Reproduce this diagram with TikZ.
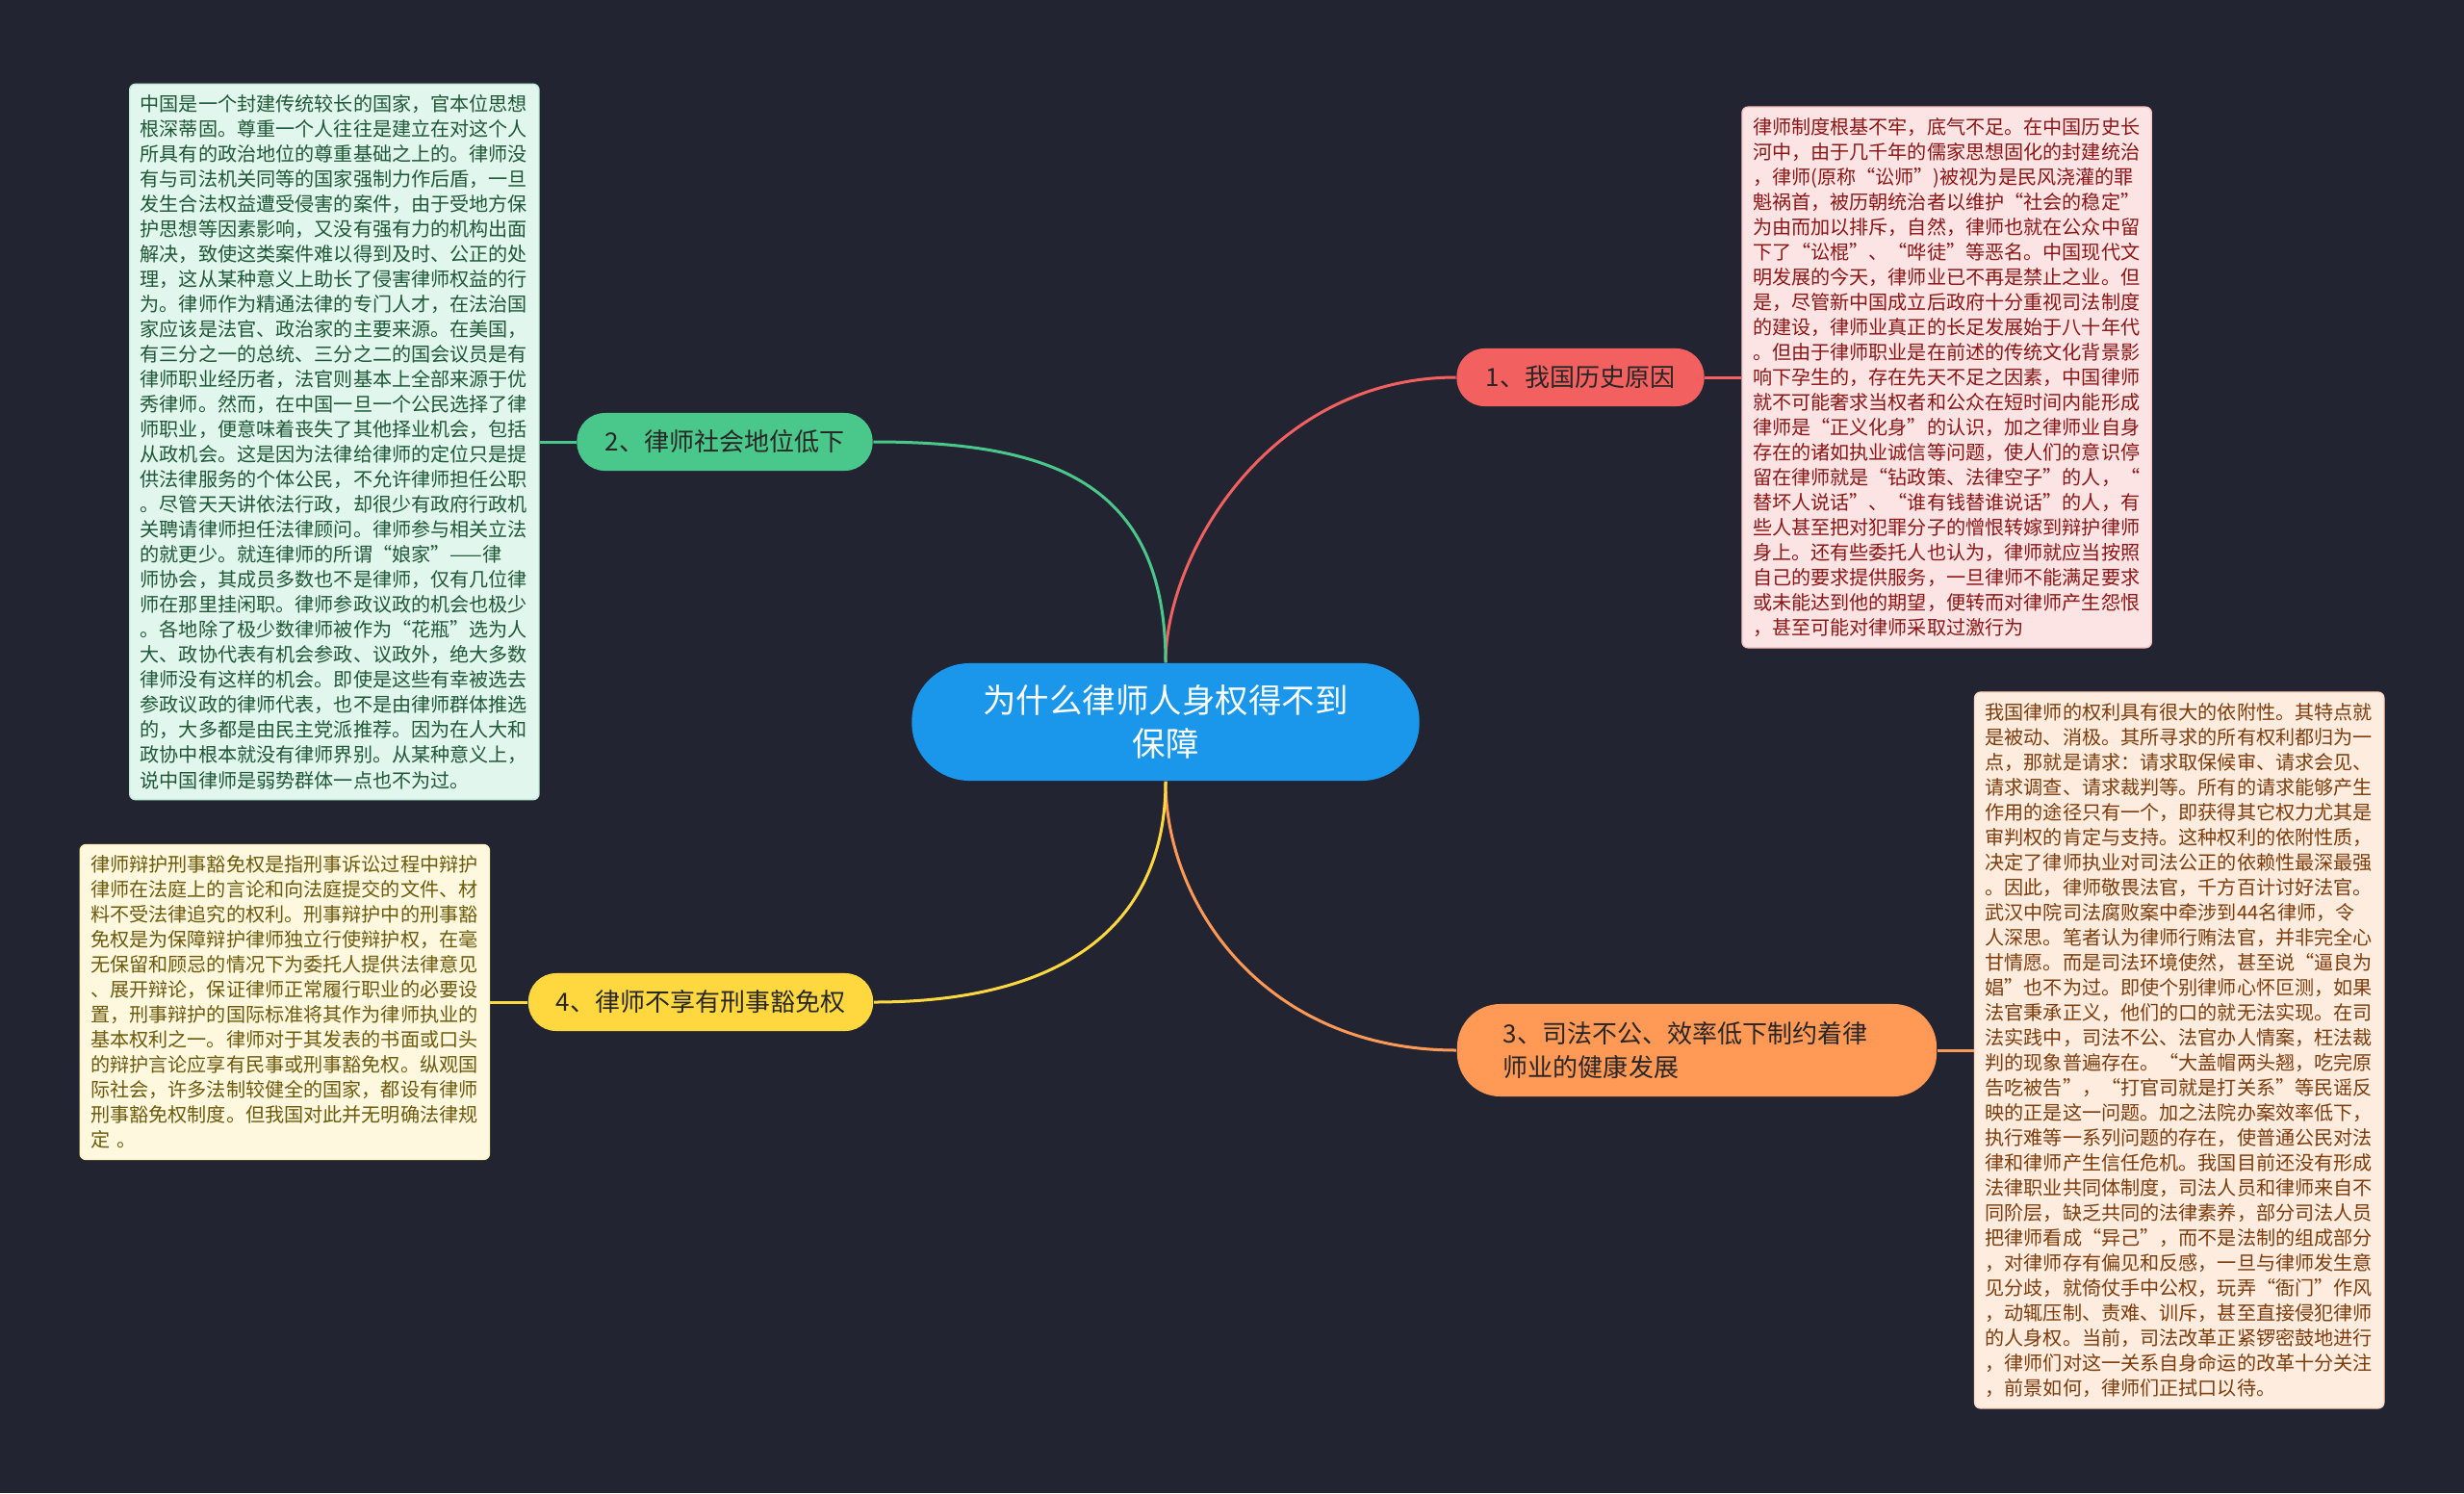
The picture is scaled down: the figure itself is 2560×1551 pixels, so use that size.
\documentclass[tikz,border=0pt]{standalone}
\usepackage{fontspec}
\setmainfont{Noto Sans CJK SC}
\usepackage{tikz}
\usetikzlibrary{positioning}
\definecolor{bgdark}{RGB}{34, 37, 49}
\definecolor{rootblue}{RGB}{26, 150, 235}
\definecolor{topictext}{RGB}{40, 38, 38}
\definecolor{redA}{RGB}{242, 96, 96}
\definecolor{redL}{RGB}{253, 228, 228}
\definecolor{redT}{RGB}{140, 22, 22}
\definecolor{greenA}{RGB}{74, 199, 138}
\definecolor{greenL}{RGB}{225, 246, 236}
\definecolor{greenT}{RGB}{30, 88, 55}
\definecolor{orangeA}{RGB}{255, 153, 85}
\definecolor{orangeL}{RGB}{254, 236, 222}
\definecolor{orangeT}{RGB}{125, 60, 12}
\definecolor{yellowA}{RGB}{255, 216, 64}
\definecolor{yellowL}{RGB}{254, 248, 222}
\definecolor{yellowT}{RGB}{110, 90, 12}

\begin{document}
\begin{tikzpicture}[x=0.01cm, y=-0.01cm,
  root/.style={fill=rootblue, text=white, rounded corners=0.6cm,
               font=\fontsize{9.8}{12.8}\selectfont, align=center,
               minimum width=5.27cm, minimum height=1.22cm},
  topic/.style={rounded corners=0.29cm, text=topictext, inner xsep=0.2cm,
                font=\fontsize{7.4}{9.7}\selectfont, minimum height=0.6cm},
  desc/.style={rounded corners=0.06cm, line width=0.4pt, align=left,
               text width=4.03cm, inner xsep=0.11cm, inner ysep=0.11cm,
               font=\fontsize{5.72}{7.4}\selectfont},
  link/.style={line width=0.03cm},
]
  \fill[bgdark] (0,0) rectangle (2560,1551);
  \useasboundingbox (0,0) rectangle (2560,1551);

  % centre and the four branches
  \node[root] (root) at (1211,750) {为什么律师人身权得不到\\保障};
  \node[topic, fill=redA, minimum width=2.57cm] (t1) at (1642,392) {1、我国历史原因};
  \node[topic, fill=greenA, minimum width=3.07cm] (t2) at (753,459) {2、律师社会地位低下};
  \node[topic, fill=orangeA, rounded corners=0.45cm, minimum height=0.96cm,
        text width=4.02cm, align=left, inner xsep=0.48cm] (t3) at (1763,1091)
        {3、司法不公、效率低下制约着律\\师业的健康发展};
  \node[topic, fill=yellowA, minimum width=3.58cm] (t4) at (728,1041) {4、律师不享有刑事豁免权};

  % text boxes
  \node[desc, fill=redL, draw=redA!35, text=redT, right=0.38cm of t1] (d1) {律师制度根基不牢，底气不足。在中国历史长\\河中，由于几千年的儒家思想固化的封建统治\\，律师(原称“讼师”)被视为是民风浇灌的罪\\魁祸首，被历朝统治者以维护“社会的稳定”\\为由而加以排斥，自然，律师也就在公众中留\\下了“讼棍”、“哗徒”等恶名。中国现代文\\明发展的今天，律师业已不再是禁止之业。但\\是，尽管新中国成立后政府十分重视司法制度\\的建设，律师业真正的长足发展始于八十年代\\。但由于律师职业是在前述的传统文化背景影\\响下孕生的，存在先天不足之因素，中国律师\\就不可能奢求当权者和公众在短时间内能形成\\律师是“正义化身”的认识，加之律师业自身\\存在的诸如执业诚信等问题，使人们的意识停\\留在律师就是“钻政策、法律空子”的人，“\\替坏人说话”、“谁有钱替谁说话”的人，有\\些人甚至把对犯罪分子的憎恨转嫁到辩护律师\\身上。还有些委托人也认为，律师就应当按照\\自己的要求提供服务，一旦律师不能满足要求\\或未能达到他的期望，便转而对律师产生怨恨\\，甚至可能对律师采取过激行为};
  \node[desc, fill=greenL, draw=greenA!35, text=greenT, left=0.38cm of t2] (d2) {中国是一个封建传统较长的国家，官本位思想\\根深蒂固。尊重一个人往往是建立在对这个人\\所具有的政治地位的尊重基础之上的。律师没\\有与司法机关同等的国家强制力作后盾，一旦\\发生合法权益遭受侵害的案件，由于受地方保\\护思想等因素影响，又没有强有力的机构出面\\解决，致使这类案件难以得到及时、公正的处\\理，这从某种意义上助长了侵害律师权益的行\\为。律师作为精通法律的专门人才，在法治国\\家应该是法官、政治家的主要来源。在美国，\\有三分之一的总统、三分之二的国会议员是有\\律师职业经历者，法官则基本上全部来源于优\\秀律师。然而，在中国一旦一个公民选择了律\\师职业，便意味着丧失了其他择业机会，包括\\从政机会。这是因为法律给律师的定位只是提\\供法律服务的个体公民，不允许律师担任公职\\。尽管天天讲依法行政，却很少有政府行政机\\关聘请律师担任法律顾问。律师参与相关立法\\的就更少。就连律师的所谓“娘家”——律\\师协会，其成员多数也不是律师，仅有几位律\\师在那里挂闲职。律师参政议政的机会也极少\\。各地除了极少数律师被作为“花瓶”选为人\\大、政协代表有机会参政、议政外，绝大多数\\律师没有这样的机会。即使是这些有幸被选去\\参政议政的律师代表，也不是由律师群体推选\\的，大多都是由民主党派推荐。因为在人大和\\政协中根本就没有律师界别。从某种意义上，\\说中国律师是弱势群体一点也不为过。};
  \node[desc, fill=orangeL, draw=orangeA!35, text=orangeT, right=0.38cm of t3] (d3) {我国律师的权利具有很大的依附性。其特点就\\是被动、消极。其所寻求的所有权利都归为一\\点，那就是请求：请求取保候审、请求会见、\\请求调查、请求裁判等。所有的请求能够产生\\作用的途径只有一个，即获得其它权力尤其是\\审判权的肯定与支持。这种权利的依附性质，\\决定了律师执业对司法公正的依赖性最深最强\\。因此，律师敬畏法官，千方百计讨好法官。\\武汉中院司法腐败案中牵涉到44名律师，令\\人深思。笔者认为律师行贿法官，并非完全心\\甘情愿。而是司法环境使然，甚至说“逼良为\\娼”也不为过。即使个别律师心怀叵测，如果\\法官秉承正义，他们的口的就无法实现。在司\\法实践中，司法不公、法官办人情案，枉法裁\\判的现象普遍存在。“大盖帽两头翘，吃完原\\告吃被告”，“打官司就是打关系”等民谣反\\映的正是这一问题。加之法院办案效率低下，\\执行难等一系列问题的存在，使普通公民对法\\律和律师产生信任危机。我国目前还没有形成\\法律职业共同体制度，司法人员和律师来自不\\同阶层，缺乏共同的法律素养，部分司法人员\\把律师看成“异己”，而不是法制的组成部分\\，对律师存有偏见和反感，一旦与律师发生意\\见分歧，就倚仗手中公权，玩弄“衙门”作风\\，动辄压制、责难、训斥，甚至直接侵犯律师\\的人身权。当前，司法改革正紧锣密鼓地进行\\，律师们对这一关系自身命运的改革十分关注\\，前景如何，律师们正拭口以待。};
  \node[desc, fill=yellowL, draw=yellowA!35, text=yellowT, left=0.39cm of t4] (d4) {律师辩护刑事豁免权是指刑事诉讼过程中辩护\\律师在法庭上的言论和向法庭提交的文件、材\\料不受法律追究的权利。刑事辩护中的刑事豁\\免权是为保障辩护律师独立行使辩护权，在毫\\无保留和顾忌的情况下为委托人提供法律意见\\、展开辩论，保证律师正常履行职业的必要设\\置，刑事辩护的国际标准将其作为律师执业的\\基本权利之一。律师对于其发表的书面或口头\\的辩护言论应享有民事或刑事豁免权。纵观国\\际社会，许多法制较健全的国家，都设有律师\\刑事豁免权制度。但我国对此并无明确法律规\\定 。};

  % connectors
  \draw[link, redA] (root.north) .. controls +(0,-113) and +(-193,0) .. (t1.west);
  \draw[link, greenA] (root.north) .. controls +(0,-189) and +(183,0) .. (t2.east);
  \draw[link, orangeA] (root.south) .. controls +(0,128) and +(-199,0) .. (t3.west);
  \draw[link, yellowA] (root.south) .. controls +(0,144) and +(204,0) .. (t4.east);
  \draw[link, redA] (t1) -- (d1);
  \draw[link, greenA] (t2) -- (d2);
  \draw[link, orangeA] (t3) -- (d3);
  \draw[link, yellowA] (t4) -- (d4);
\end{tikzpicture}
\end{document}
